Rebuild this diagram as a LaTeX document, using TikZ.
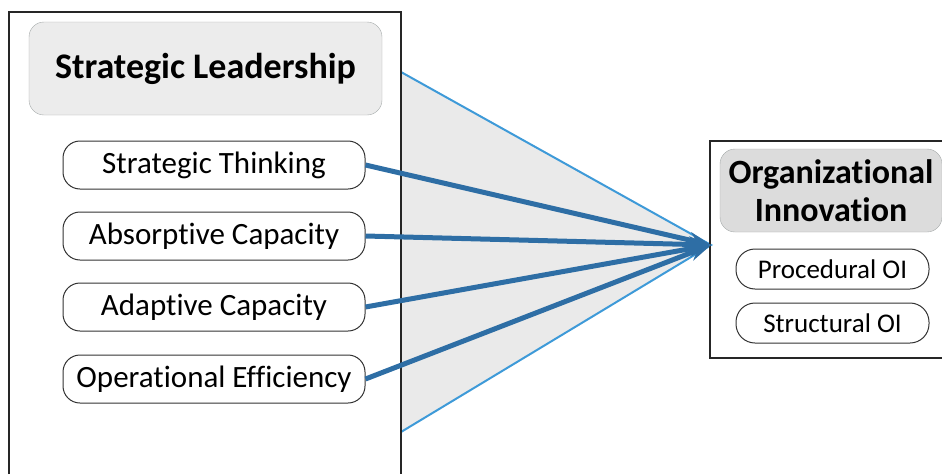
\documentclass[tikz,border=0pt]{standalone}
\usepackage{fontspec}
\setmainfont[Ligatures=NoCommon]{Carlito}
\usepackage{xcolor}
\usepackage{tikz}
\usetikzlibrary{arrows.meta, positioning}
\definecolor{edgeblue}{RGB}{62, 154, 216}
\definecolor{arrowblue}{RGB}{46, 110, 165}
\definecolor{panelgray}{RGB}{234, 234, 234}
\definecolor{headgray}{RGB}{236, 236, 236}
\definecolor{darkgray}{RGB}{220, 220, 220}
\definecolor{rimgray}{RGB}{165, 170, 170}

\begin{document}
\begin{tikzpicture}[
    x=1pt, y=-1pt,
    frame/.style={draw=black!85, line width=1.2pt},
    headBox/.style={draw=rimgray, fill=headgray, rounded corners=15pt, font=\fontsize{36}{38}\selectfont\bfseries, align=center, inner sep=0pt},
    itemBox/.style={draw=black!80, line width=1pt, fill=white, rounded corners=17pt, font=\fontsize{31}{34}\selectfont, minimum width=302pt, minimum height=48pt, inner sep=0pt},
    subBox/.style={draw=black!80, line width=1pt, fill=white, rounded corners=19pt, font=\fontsize{27}{30}\selectfont, minimum width=193pt, minimum height=40pt, inner sep=0pt},
    flow/.style={draw=arrowblue, line width=5pt, -{Stealth[length=22pt, width=16pt]}},
    edge/.style={draw=edgeblue, line width=2pt}
]
\useasboundingbox (0,0) rectangle (942,474);

% Funnel between the two panels
\coordinate (apex) at (711,245);
\coordinate (funTop) at (401,72);
\coordinate (funBot) at (401,432);
\fill[panelgray] (funTop) -- (apex) -- (funBot) -- cycle;
\draw[edge] (funTop) -- (apex) -- (funBot);

% Left panel
\draw[frame] (9,474) |- (401,12) -- (401,474);
\node[headBox, minimum width=353pt, minimum height=93pt] (leadership) at (205.5,68.5) {Strategic Leadership};
\node[itemBox] (thinking) at (214,165) {Strategic Thinking};
\node[itemBox, below=22pt of thinking] (absorptive) {Absorptive Capacity};
\node[itemBox, below=22pt of absorptive] (adaptive) {Adaptive Capacity};
\node[itemBox, below=23pt of adaptive] (operational) {Operational Efficiency};

% Right panel
\draw[frame] (942,141) -| (710,358) -- (942,358);
\node[headBox, fill=darkgray, font=\fontsize{34}{38}\selectfont\bfseries, minimum width=222pt, minimum height=83pt] (innovation) at (831,190.5) {Organizational\\Innovation};
\node[subBox] (procedural) at (832.5,269) {Procedural OI};
\node[subBox, below=13pt of procedural] (structural) {Structural OI};

\foreach \src in {thinking, absorptive, adaptive, operational}
    \draw[flow] (\src.east) -- (apex);

\end{tikzpicture}
\end{document}
